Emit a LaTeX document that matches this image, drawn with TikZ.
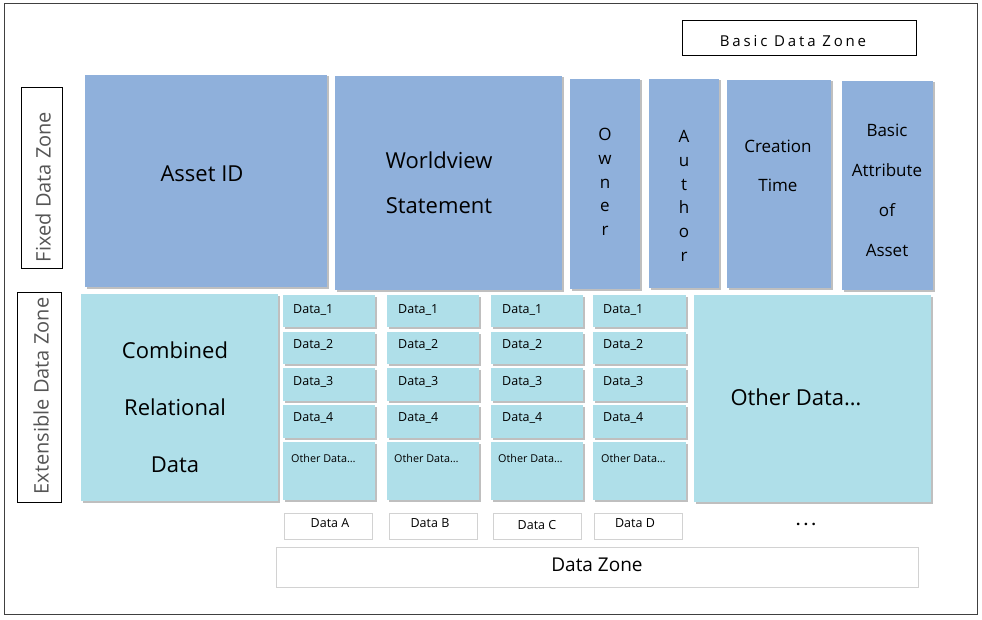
\documentclass[tikz,border=0pt]{standalone}
\usepackage{fontspec}
\setmainfont{Open Sans}
\usetikzlibrary{shadows}
\definecolor{bluebox}{RGB}{143,176,219}
\definecolor{cyanbox}{RGB}{175,223,233}
\definecolor{framegray}{RGB}{64,64,64}
\definecolor{lightgray}{RGB}{210,210,210}
\definecolor{zonetext}{RGB}{85,85,85}
\tikzset{
  shad/.style={drop shadow={shadow xshift=1.5pt,shadow yshift=-1.5pt,fill=black,opacity=0.25}},
  bluerect/.style={rectangle,inner sep=0pt,fill=bluebox,shad},
  cyanrect/.style={rectangle,inner sep=0pt,fill=cyanbox,shad},
  zonebox/.style={rectangle,inner sep=0pt,draw=black,line width=0.9pt,fill=white},
  labbox/.style={rectangle,inner sep=0pt,draw=lightgray,line width=0.8pt,fill=white},
  bigtxt/.style={font=\fontsize{22}{22}\selectfont,align=center,inner sep=0pt},
  midtxt/.style={font=\fontsize{17}{17}\selectfont,align=center,inner sep=0pt},
  smalltxt/.style={font=\fontsize{12.5}{12.5}\selectfont,inner sep=0pt,anchor=west},
  tinytxt/.style={font=\fontsize{10.8}{10.8}\selectfont,inner sep=0pt,anchor=west},
  labtxt/.style={font=\fontsize{12.5}{12.5}\selectfont,inner sep=0pt},
  zonetxt/.style={font=\fontsize{20}{20}\selectfont,text=zonetext,inner sep=0pt,rotate=90},
}
\begin{document}
\begin{tikzpicture}[x=1pt,y=-1pt]
\useasboundingbox (0,0) rectangle (982,620);
% outer frame
\node[rectangle,draw=framegray,line width=1pt,minimum width=973pt,minimum height=610pt,inner sep=0pt] (frame) at (490.5,309) {};
% zone boxes
\node[zonebox,minimum width=234pt,minimum height=35pt] (bdz) at (799,37.5) {};
\node[font=\fontsize{15}{15}\selectfont\addfontfeature{LetterSpace=19},inner sep=0pt] (bdzt) at (793,41) {Basic Data Zone};
\node[zonebox,minimum width=41pt,minimum height=181pt] (fdz) at (41.5,177.5) {};
\node[zonetxt] (fdzt) at (43,187) {Fixed Data Zone};
\node[zonebox,minimum width=44pt,minimum height=210pt] (edz) at (39,397) {};
\node[zonetxt] (edzt) at (41,396) {Extensible Data Zone};
% fixed data zone boxes
\node[bluerect,minimum width=242pt,minimum height=212pt] (asset) at (206,181) {};
\node[bigtxt] (assett) at (202,174) {Asset ID};
\node[bluerect,minimum width=227pt,minimum height=214pt] (world) at (448.5,183) {};
\node[bigtxt,font=\fontsize{22}{45}\selectfont] (worldt) at (439,183) {Worldview\\Statement};
\node[bluerect,minimum width=70pt,minimum height=210pt] (owner) at (605,184) {};
\node[midtxt,font=\fontsize{17}{23.7}\selectfont] (ownert) at (605,182) {O\\w\\n\\e\\r};
\node[bluerect,minimum width=70pt,minimum height=209pt] (author) at (684,183.5) {};
\node[midtxt,font=\fontsize{17}{23.8}\selectfont] (authort) at (684,196) {A\\u\\t\\h\\o\\r};
\node[bluerect,minimum width=104pt,minimum height=208pt] (creation) at (779,184) {};
\node[midtxt,font=\fontsize{17}{39.5}\selectfont] (creationt) at (778,166) {Creation\\Time};
\node[bluerect,minimum width=91pt,minimum height=209pt] (basic) at (887.5,185.5) {};
\node[midtxt,font=\fontsize{17}{40}\selectfont] (basict) at (887,190) {Basic\\Attribute\\of\\Asset};
% extensible data zone
\node[cyanrect,minimum width=197pt,minimum height=207pt] (comb) at (179.5,397.5) {};
\node[bigtxt,font=\fontsize{22}{57}\selectfont] (combt) at (175,407) {Combined\\Relational\\Data};
\node[cyanrect,minimum width=237pt,minimum height=207pt] (other) at (812.5,398.5) {};
\node[bigtxt] (othert) at (796,397) {Other Data\ldots};
% data columns
\foreach \c/\cx/\w/\tx/\ox in {a/329/92/293/291, b/433/92/398/394, c/537/92/502/498, d/639.5/93/603/601}{
  \node[cyanrect,minimum width=\w pt,minimum height=32pt] (\c1) at (\cx,311) {};
  \node[smalltxt] (\c1t) at (\tx,310) {Data\_1};
  \node[cyanrect,minimum width=\w pt,minimum height=32pt] (\c2) at (\cx,348) {};
  \node[smalltxt] (\c2t) at (\tx,345) {Data\_2};
  \node[cyanrect,minimum width=\w pt,minimum height=33pt] (\c3) at (\cx,384.5) {};
  \node[smalltxt] (\c3t) at (\tx,382) {Data\_3};
  \node[cyanrect,minimum width=\w pt,minimum height=33pt] (\c4) at (\cx,421.5) {};
  \node[smalltxt] (\c4t) at (\tx,418) {Data\_4};
  \node[cyanrect,minimum width=\w pt,minimum height=58pt] (\c5) at (\cx,471) {};
  \node[tinytxt] (\c5t) at (\ox,458) {Other Data\ldots};
}
% labels under columns
\node[labbox,minimum width=88pt,minimum height=26pt] (la) at (328,526) {};
\node[labtxt] (lat) at (330,523) {Data A};
\node[labbox,minimum width=88pt,minimum height=26pt] (lb) at (433,526) {};
\node[labtxt] (lbt) at (430,523) {Data B};
\node[labbox,minimum width=88pt,minimum height=26pt] (lc) at (537,526) {};
\node[labtxt] (lct) at (537,525) {Data C};
\node[labbox,minimum width=88pt,minimum height=26pt] (ld) at (638,526) {};
\node[labtxt] (ldt) at (635,523) {Data D};
\node[font=\fontsize{15}{15}\selectfont\bfseries,inner sep=0pt,anchor=base] (dots) at (806,525) {.\hspace{3.5pt}.\hspace{3.5pt}.};
% data zone
\node[labbox,minimum width=642pt,minimum height=40pt] (dz) at (597,567) {};
\node[font=\fontsize{19}{19}\selectfont,inner sep=0pt] (dzt) at (597,565) {Data Zone};
\end{tikzpicture}
\end{document}
